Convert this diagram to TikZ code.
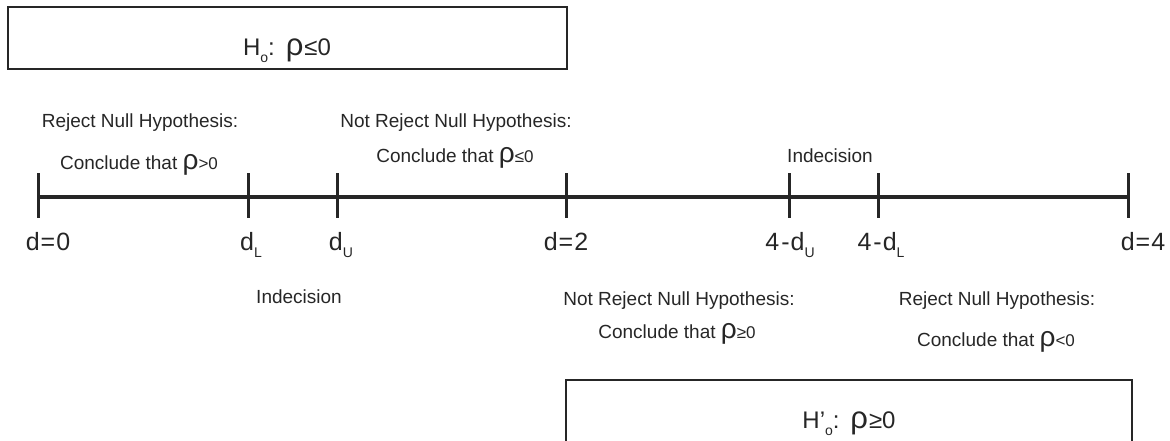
\documentclass[tikz,border=0pt]{standalone}
\usepackage{fontspec}
\setmainfont{Liberation Sans}
\newcommand\rh{{\fontsize{28}{28}\selectfont ρ}}
\newcommand\brh{{\fontsize{31}{31}\selectfont ρ}}
\newcommand\sbs[1]{\raisebox{-7pt}{\fontsize{14}{14}\selectfont #1}}
\newcommand\hsb[1]{\raisebox{-7pt}{\fontsize{14}{14}\selectfont #1}}
\newcommand\sml[1]{{\fontsize{17}{17}\selectfont #1}}
\begin{document}
\begin{tikzpicture}[x=1pt,y=-1pt,
  lbl/.style={font=\fontsize{19}{21}\selectfont, anchor=base, inner sep=0pt, text=black!85},
  tlbl/.style={font=\fontsize{25}{28}\selectfont, anchor=base, inner sep=0pt, text=black!85},
  hyp/.style={font=\fontsize{24}{27}\selectfont, anchor=base, inner sep=0pt, text=black!85},
  tickmark/.style={line width=3pt, draw=black!85},
  axisline/.style={line width=3.4pt, draw=black!85},
  hypbox/.style={line width=1.8pt, draw=black!85}]
\useasboundingbox (0,0) rectangle (1170,441);
\clip (0,0) rectangle (1170,441);
% hypothesis boxes
\draw[hypbox] (8,7) rectangle (567,69);
\node[hyp] (h0) at (287,56) {H\hsb{o}: {\kern2pt}\brh{\kern1pt}≤0};
\draw[hypbox] (566,460) -- (566,380) -- (1132,380) -- (1132,460);
\node[hyp] (h1) at (849,428) {H\textquoteright\hsb{o}: {\kern2pt}\brh{\kern1pt}≥0};
% axis
\foreach \n/\x in {t0/38,t1/248,t2/337,t3/566,t4/789,t5/878,t6/1128}{
  \coordinate (\n) at (\x,197);
  \draw[tickmark] ([yshift=24pt]\n) -- ([yshift=-21pt]\n);
}
\draw[axisline] (t0) -- (t6);
% tick labels
\node[tlbl] (l0) at (48,250) {d{\kern1pt}={\kern1pt}0};
\node[tlbl] (l1) at (251,250) {d\sbs{L}};
\node[tlbl] (l2) at (341,250) {d\sbs{U}};
\node[tlbl] (l3) at (566,250) {d{\kern1pt}={\kern1pt}2};
\node[tlbl] (l4) at (790,250) {4{\kern2pt}-{\kern1pt}d\sbs{U}};
\node[tlbl] (l5) at (881,250) {4{\kern2pt}-{\kern1pt}d\sbs{L}};
\node[tlbl] (l6) at (1143,250) {d{\kern1pt}={\kern1pt}4};
% region labels above
\node[lbl] (a1) at (140,128) {Reject Null Hypothesis:};
\node[lbl] (a2) at (139,170) {Conclude that \rh\sml{>0}};
\node[lbl] (a3) at (456,128) {Not Reject Null Hypothesis:};
\node[lbl] (a4) at (455,162) {Conclude that \rh\sml{≤0}};
\node[lbl] (a5) at (830,162) {Indecision};
% region labels below
\node[lbl] (b1) at (299,303) {Indecision};
\node[lbl] (b2) at (679,305) {Not Reject Null Hypothesis:};
\node[lbl] (b3) at (677,338) {Conclude that \rh\sml{≥0}};
\node[lbl] (b4) at (997,305) {Reject Null Hypothesis:};
\node[lbl] (b5) at (996,346) {Conclude that \rh\sml{<0}};
\end{tikzpicture}
\end{document}
